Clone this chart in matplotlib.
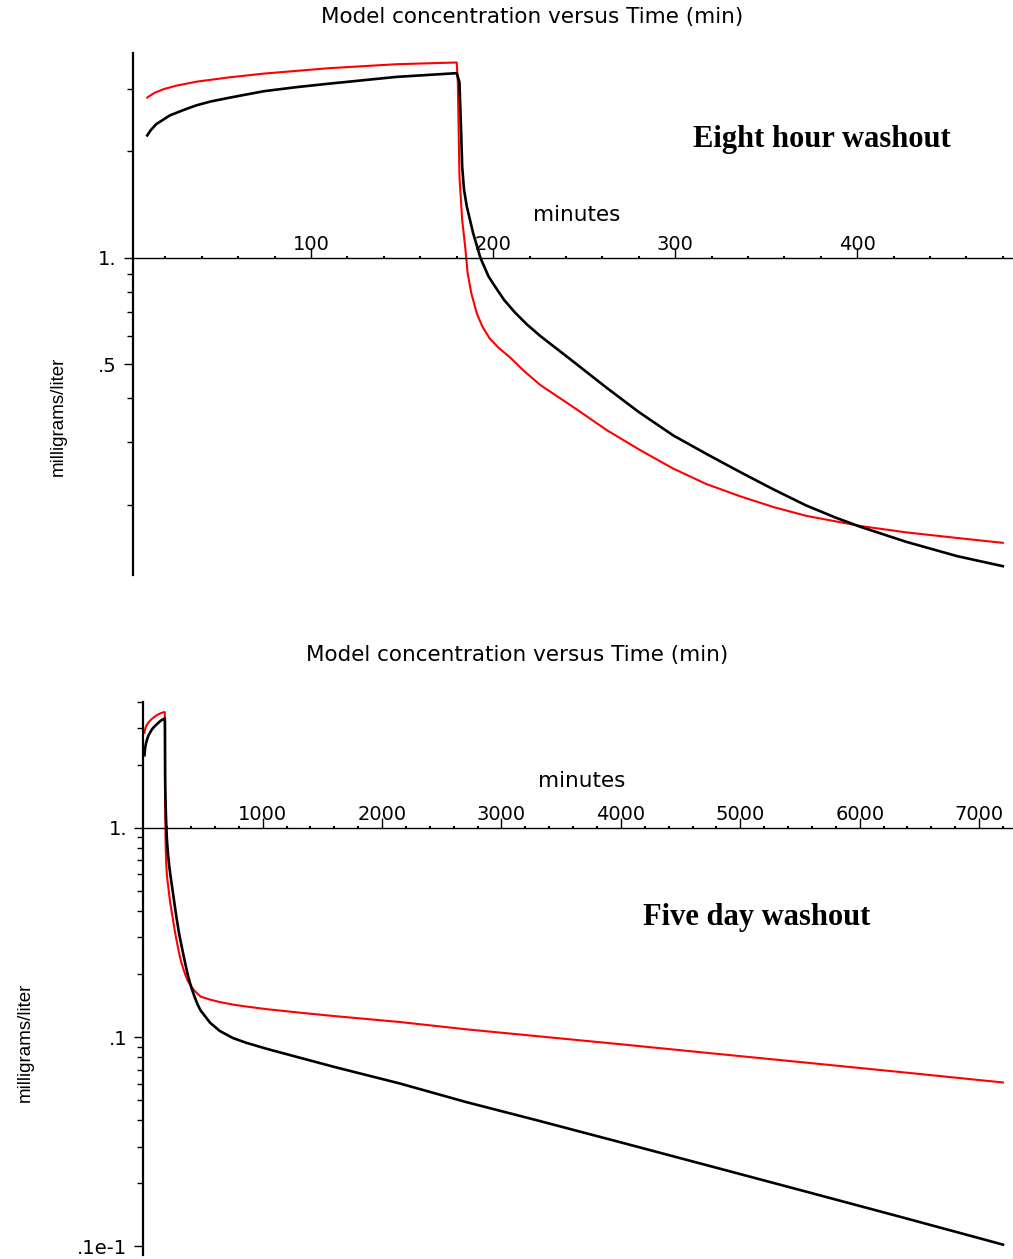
import matplotlib
matplotlib.use('Agg')
import numpy as np
import matplotlib.pyplot as plt
from matplotlib.ticker import FixedLocator, NullFormatter

# Infusion (0-180 min) followed by washout, concentration in mg/L
red_t = [10, 14, 19, 26, 37, 55, 74, 92, 110, 147, 180, 180.6, 181.5, 183, 184.6, 186, 188, 191,
         194, 198, 203, 209, 217, 226, 244, 262.5, 281, 299, 317, 336, 354, 372, 402, 427, 455, 480]
red_c = [2.84, 2.93, 3.00, 3.07, 3.15, 3.24, 3.32, 3.38, 3.44, 3.53, 3.57, 3.14, 1.70, 1.28, 1.08,
         0.905, 0.794, 0.697, 0.640, 0.592, 0.556, 0.524, 0.478, 0.436, 0.378, 0.325, 0.285, 0.253,
         0.229, 0.211, 0.197, 0.186, 0.174, 0.167, 0.161, 0.156]

black_t = [10, 12, 15, 22.5, 30, 37, 45, 55.5, 74, 92, 110, 147, 180, 181.5, 182.5, 183, 184, 185.5,
           189, 193, 197.5, 201, 206, 212, 218.5, 226, 242, 262.5, 280, 299, 318, 336, 354, 372,
           388, 402, 427, 455, 480]
black_c = [2.22, 2.30, 2.39, 2.53, 2.62, 2.70, 2.77, 2.84, 2.96, 3.04, 3.11, 3.25, 3.33, 3.14, 2.21,
           1.81, 1.56, 1.40, 1.175, 1.0, 0.885, 0.830, 0.760, 0.700, 0.648, 0.600, 0.518, 0.428,
           0.366, 0.314, 0.277, 0.247, 0.221, 0.199, 0.184, 0.173, 0.157, 0.143, 0.134]

# long washout out to five days
tail_t = [560, 640, 750, 860, 1030, 1300, 1600, 2150, 2700, 3300, 4000, 4700, 5500, 6350, 7200]
red_tail = [0.151, 0.147, 0.143, 0.140, 0.136, 0.131, 0.126, 0.118, 0.109, 0.101, 0.0924, 0.0843,
            0.0760, 0.0680, 0.0607]
black_tail = [0.117, 0.107, 0.099, 0.094, 0.088, 0.080, 0.072, 0.060, 0.049, 0.040, 0.0314, 0.0246,
              0.0186, 0.0138, 0.0102]

top_xticks = [100, 200, 300, 400]
top_xminor = [t for t in range(20, 481, 20) if t % 100]
top_yticks = [1.0, 0.5]
top_ylabels = ['1.', '.5']
top_yminor = [0.2, 0.3, 0.4, 0.6, 0.7, 0.8, 0.9, 2, 3]

bot_xticks = [1000, 2000, 3000, 4000, 5000, 6000, 7000]
bot_xminor = [t for t in range(200, 7201, 200) if t % 1000]
bot_yticks = [1.0, 0.1, 0.01]
bot_ylabels = ['1.', '.1', '.1e-1']
bot_yminor = [0.02, 0.03, 0.04, 0.05, 0.06, 0.07, 0.08, 0.09,
              0.2, 0.3, 0.4, 0.5, 0.6, 0.7, 0.8, 0.9, 2, 3, 4]

W, H = 1013, 1259
fig = plt.figure(figsize=(W / 100, H / 100), dpi=100)


def px_axes(left, top, right, bottom):
    return fig.add_axes([left / W, 1 - bottom / H, (right - left) / W, (bottom - top) / H])


def style(ax, xmajor, xminor, ymajor, ylabels, yminor):
    ax.set_yscale('log')
    ax.spines['right'].set_visible(False)
    ax.spines['bottom'].set_visible(False)
    ax.spines['top'].set_position(('data', 1.0))
    ax.spines['top'].set_linewidth(1.0)
    ax.spines['left'].set_linewidth(1.6)
    ax.xaxis.tick_top()
    ax.set_xticks(xmajor, labels=[str(v) for v in xmajor])
    ax.xaxis.set_minor_locator(FixedLocator(xminor))
    ax.tick_params(axis='x', which='major', direction='out', length=7, width=1,
                   pad=-4, labelsize=14)
    ax.tick_params(axis='x', which='minor', direction='out', length=1.5, width=1.5)
    ax.set_yticks(ymajor, labels=ylabels)
    ax.yaxis.set_minor_locator(FixedLocator(yminor))
    ax.yaxis.set_minor_formatter(NullFormatter())
    ax.tick_params(axis='y', which='major', direction='out', length=6.5, width=1,
                   pad=5, labelsize=14)
    ax.tick_params(axis='y', which='minor', direction='out', length=4.5, width=1)
    ax.patch.set_visible(False)


# eight hour washout
ax1 = px_axes(132.7, 53.3, W, 575)
ax1.plot(red_t, red_c, color='#ff0000', lw=1.5)
ax1.plot(black_t, black_c, color='black', lw=1.9)
ax1.set_xlim(2.0, 485.6)
ax1.set_ylim(0.1265, 3.79)
style(ax1, top_xticks, top_xminor, top_yticks, top_ylabels, top_yminor)

# five day washout
ax2 = px_axes(143.3, 701.7, W, 1255)
ax2.plot(red_t + tail_t, red_c + red_tail, color='#ff0000', lw=1.5)
ax2.plot(black_t + tail_t, black_c + black_tail, color='black', lw=1.9)
ax2.set_xlim(0, 7284)
ax2.set_ylim(0.0091, 4.0)
style(ax2, bot_xticks, bot_xminor, bot_yticks, bot_ylabels, bot_yminor)

title = 'Model concentration versus Time (min)'
fig.text(532 / W, 1 - 17 / H, title, ha='center', va='center', fontsize=15.5)
fig.text(517 / W, 1 - 655 / H, title, ha='center', va='center', fontsize=15.5)
fig.text(577 / W, 1 - 215 / H, 'minutes', ha='center', va='center', fontsize=15.5)
fig.text(582 / W, 1 - 781 / H, 'minutes', ha='center', va='center', fontsize=15.5)

ylab_font = ['Liberation Sans', 'DejaVu Sans']
fig.text(58 / W, 1 - 416 / H, 'milligrams/liter', rotation=90, ha='center', va='center',
         fontsize=13.5, family=ylab_font)
fig.text(25 / W, 1 - 1042 / H, 'milligrams/liter', rotation=90, ha='center', va='center',
         fontsize=13.5, family=ylab_font)

serif_bold = ['Liberation Serif', 'DejaVu Serif']
fig.text(822 / W, 1 - 140 / H, 'Eight hour washout', ha='center', va='center',
         fontsize=22, fontweight='bold', family=serif_bold)
fig.text(757 / W, 1 - 917 / H, 'Five day washout', ha='center', va='center',
         fontsize=22, fontweight='bold', family=serif_bold)

fig.savefig('out.png', dpi=100)
